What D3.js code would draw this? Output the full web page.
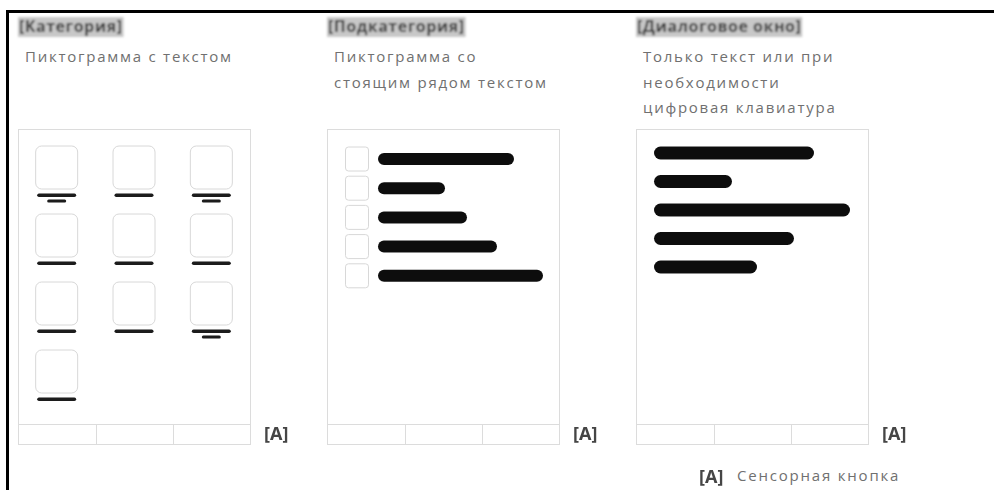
<!DOCTYPE html>
<html><head><meta charset="utf-8">
<script src="https://cdn.jsdelivr.net/npm/d3@7"></script>
<style>
html,body{margin:0;padding:0;background:#fff;}
svg{display:block;font-family:"Open Sans",sans-serif;}
</style></head>
<body><svg id="c" width="994" height="490"></svg>
<script>
// ---- data ----
const headers = ["[Категория]", "[Подкатегория]", "[Диалоговое окно]"];
const subtitles = [
  ["Пиктограмма с текстом"],
  ["Пиктограмма со", "стоящим рядом текстом"],
  ["Только текст или при", "необходимости", "цифровая клавиатура"]
];
// panel 1: number of text lines under each icon (3 per row)
const iconLabelLines = [2, 1, 2, 1, 1, 1, 1, 1, 2, 1];
// panel 2: text lengths next to each small icon
const listLengths = [68, 33.5, 44.5, 59.5, 82.5];
// panel 3: text-only lengths
const textLengths = [80, 39, 98, 70, 51.5];
const buttonsPerPanel = [3, 3, 3];
const buttonMark = "[A]";
const legendText = "Сенсорная кнопка";

// ---- layout ----
const svg = d3.select("#c");
const defs = svg.append("defs");
defs.append("filter").attr("id","blurH").attr("x","-10%").attr("y","-30%").attr("width","120%").attr("height","160%")
  .append("feGaussianBlur").attr("stdDeviation",1.1);
defs.append("filter").attr("id","blurS").attr("x","-10%").attr("y","-50%").attr("width","120%").attr("height","200%")
  .append("feGaussianBlur").attr("stdDeviation",0.6);

// frame
svg.append("rect").attr("x",6).attr("y",10).attr("width",988).attr("height",3).attr("fill","#000");
svg.append("rect").attr("x",6).attr("y",10).attr("width",3).attr("height",480).attr("fill","#000");

const panelX = d3.scalePoint().domain(d3.range(3)).range([18, 636]);
const boxW = 232, boxTop = 129, boxBot = 444, btnTop = 424;

headers.forEach((h, i) => {
  const g = svg.append("g").attr("transform", `translate(${panelX(i)},0)`);
  // header (obscured)
  const hg = g.append("g").attr("filter","url(#blurH)");
  const ht = hg.append("text").attr("x",1).attr("y",32).attr("font-size",16).attr("font-weight",700)
    .attr("fill","#3a3a3a").attr("letter-spacing",0.5).text(h);
  const bb = ht.node().getBBox();
  hg.insert("rect","text").attr("x",0).attr("y",17).attr("width",bb.width+2).attr("height",20).attr("fill","#c8c8c8");
  // subtitles
  g.selectAll("text.sub").data(subtitles[i]).join("text").attr("class","sub")
    .attr("x", 7).attr("y", (d, k) => 62 + k*25.5)
    .attr("font-size",15).attr("letter-spacing",1.75).attr("fill","#707070").text(d => d);
  // box
  g.append("rect").attr("x",0.5).attr("y",boxTop+0.5).attr("width",boxW).attr("height",boxBot-boxTop)
    .attr("fill","none").attr("stroke","#dcdcdc");
  // buttons
  const bx = d3.scaleBand().domain(d3.range(buttonsPerPanel[i])).range([0.5, boxW+0.5]);
  g.append("line").attr("x1",0.5).attr("x2",boxW+0.5).attr("y1",btnTop+0.5).attr("y2",btnTop+0.5).attr("stroke","#dcdcdc");
  g.selectAll("line.div").data(bx.domain().slice(1)).join("line").attr("class","div")
    .attr("x1",d=>Math.round(bx(d))+0.5).attr("x2",d=>Math.round(bx(d))+0.5)
    .attr("y1",btnTop).attr("y2",boxBot).attr("stroke","#dcdcdc");
  // [A] mark
  g.append("text").attr("x",boxW+14).attr("y",440).attr("font-size",18).attr("font-weight",700)
    .attr("fill","#444").attr("filter","url(#blurS)").text(buttonMark);

  if (i === 0) {
    const col = d3.scaleBand().domain(d3.range(3)).range([0, boxW]);
    const row = d3.scaleLinear().domain([0, 1]).range([146, 214]);
    const cells = iconLabelLines.map((n, k) => ({n, c: k % 3, r: Math.floor(k / 3)}));
    const cg = g.selectAll("g.cell").data(cells).join("g").attr("class","cell")
      .attr("transform", d => `translate(${col(d.c) + col.bandwidth()/2},${row(d.r)})`);
    cg.append("rect").attr("x",-21).attr("y",0).attr("width",42).attr("height",43).attr("rx",6)
      .attr("fill","none").attr("stroke","#d8d8d8");
    const lg = cg.append("g").attr("filter","url(#blurS)");
    lg.append("rect").attr("x",-19.5).attr("y",47.5).attr("width",39).attr("height",3.5).attr("rx",1.75).attr("fill","#1c1c1c");
    lg.filter(d => d.n > 1).append("rect").attr("x",-9.5).attr("y",53.5).attr("width",19).attr("height",3).attr("rx",1.5).attr("fill","#1c1c1c");
  }
  if (i === 1) {
    const y = d3.scaleLinear().domain([0, 1]).range([159, 188.2]);
    const x = d3.scaleLinear().domain([0, 100]).range([0, 200]);
    g.selectAll("rect.ic").data(listLengths).join("rect").attr("class","ic")
      .attr("x", 18.5).attr("y",(d,k)=>y(k)-12).attr("width",23).attr("height",24).attr("rx",3)
      .attr("fill","none").attr("stroke","#d8d8d8");
    g.selectAll("rect.bar").data(listLengths).join("rect").attr("class","bar")
      .attr("x", 51).attr("y",(d,k)=>y(k)-6).attr("width",d=>x(d)).attr("height",12).attr("rx",6)
      .attr("fill","#111").attr("filter","url(#blurS)");
  }
  if (i === 2) {
    const y = d3.scaleLinear().domain([0, 1]).range([153, 181.5]);
    const x = d3.scaleLinear().domain([0, 100]).range([0, 200]);
    g.selectAll("rect.bar").data(textLengths).join("rect").attr("class","bar")
      .attr("x", 18).attr("y",(d,k)=>y(k)-6.5).attr("width",d=>x(d)).attr("height",13).attr("rx",6.5)
      .attr("fill","#111").attr("filter","url(#blurS)");
  }
});

// legend
svg.append("text").attr("x",699).attr("y",483).attr("font-size",18).attr("font-weight",700)
  .attr("fill","#444").attr("filter","url(#blurS)").text(buttonMark);
svg.append("text").attr("x",737).attr("y",481).attr("font-size",15).attr("letter-spacing",1.8)
  .attr("fill","#707070").text(legendText);
</script></body></html>
